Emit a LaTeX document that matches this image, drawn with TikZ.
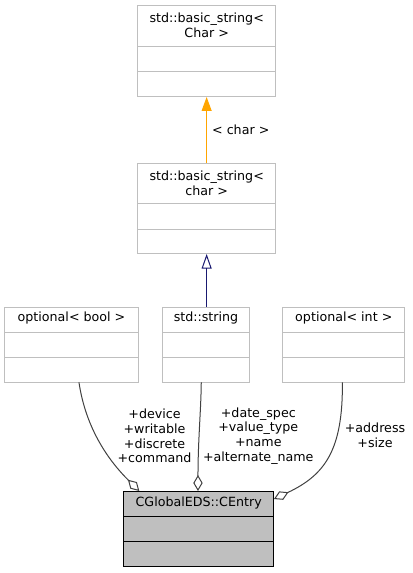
\documentclass[tikz,border=0pt]{standalone}
\usepackage{fontspec}
\setmainfont{DejaVu Sans}
\usetikzlibrary{arrows.meta}
\definecolor{boxgray}{HTML}{BFBFBF}
\definecolor{edgegray}{HTML}{404040}
\definecolor{inhblue}{HTML}{191970}
\definecolor{tmplorange}{HTML}{FFA500}
\begin{document}
\begin{tikzpicture}[x=0.75pt,y=-0.75pt,
  box/.style={draw=boxgray,line width=0.75pt,rectangle,inner sep=0pt,outer sep=0pt,anchor=north west},
  mainbox/.style={box,draw=black,fill=boxgray},
  sepline/.style={draw=boxgray,line width=0.75pt},
  mainsep/.style={draw=black,line width=0.75pt},
  ttl/.style={font=\fontsize{9.5}{11}\selectfont,align=center,inner sep=0pt},
  lbl/.style={font=\fontsize{9.5}{11}\selectfont,align=center,inner sep=0pt},
  aggr/.style={draw=edgegray,line width=0.75pt,{Diamond[open,length=12pt,width=7pt]}-},
  inh/.style={draw=inhblue,line width=0.75pt,{Triangle[open,length=11pt,width=7.5pt]}-},
  tmpl/.style={draw=tmplorange,line width=0.75pt,{Triangle[length=10.5pt,width=7.5pt]}-}]
\useasboundingbox (0,0) rectangle (412,573);
% boxes
\node[box,minimum width=104pt,minimum height=68.25pt] (top) at (137.3,6) {};
\node[box,minimum width=104pt,minimum height=68pt] (mid) at (137.3,163.3) {};
\node[box,minimum width=100.2pt,minimum height=56.5pt] (ob) at (4.7,307) {};
\node[box,minimum width=64.7pt,minimum height=56.5pt] (ss) at (162.8,307) {};
\node[box,minimum width=91.7pt,minimum height=56.5pt] (oi) at (282.7,307) {};
\node[mainbox,minimum width=113pt,minimum height=56.8pt] (ce) at (123.3,491) {};
% separators
\draw[sepline] (137.3,46.7) -- (276,46.7) (137.3,71.7) -- (276,71.7);
\draw[sepline] (137.3,204) -- (276,204) (137.3,229.3) -- (276,229.3);
\draw[sepline] (4.7,332.7) -- (138.3,332.7) (4.7,357.8) -- (138.3,357.8);
\draw[sepline] (162.8,332.7) -- (249.3,332.7) (162.8,357.8) -- (249.3,357.8);
\draw[sepline] (282.7,332.7) -- (405,332.7) (282.7,357.8) -- (405,357.8);
\draw[mainsep] (123.3,516.7) -- (274,516.7) (123.3,541.3) -- (274,541.3);
% titles
\node[ttl] (ttop) at (206.7,25.5) {std::basic\_string<\\Char >};
\node[ttl] (tmid) at (206.7,183.5) {std::basic\_string<\\char >};
\node[ttl] (tob) at (71.5,318.5) {optional< bool >};
\node[ttl] (tss) at (206,318.5) {std::string};
\node[ttl] (toi) at (343.8,318.5) {optional< int >};
\node[ttl] (tce) at (198.7,503) {CGlobalEDS::CEntry};
% edges
\draw[tmpl] (top.south) -- (mid.north)
  node[lbl,pos=0.5,anchor=west,xshift=3.75pt] (lchar) {< char >};
\draw[inh] (mid.south) -- (ss.north -| mid.south);
\draw[aggr] ([xshift=12pt]ce.north west) .. controls (110,462) and (86,430) .. ([xshift=5.6pt]ob.south);
\draw[aggr] ([xshift=-0.5pt]ce.north) .. controls (198,440) and (201,410) .. ([xshift=-3.5pt]ss.south);
\draw[aggr] ([yshift=-6pt]ce.north east) .. controls (325,475) and (343,450) .. ([xshift=-1.1pt]oi.south);
% labels
\node[lbl] (lob) at (154.5,436) {+device\\+writable\\+discrete\\+command};
\node[lbl] (lss) at (258.3,436) {+date\_spec\\+value\_type\\+name\\+alternate\_name};
\node[lbl] (loi) at (375,435.5) {+address\\+size};
\end{tikzpicture}
\end{document}
